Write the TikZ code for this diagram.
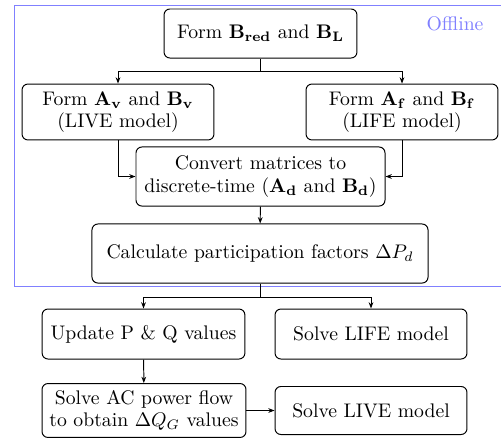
\documentclass[tikz,border=0pt]{standalone}
\usetikzlibrary{arrows.meta}
\begin{document}
\begin{tikzpicture}[x=0.508pt,y=-0.508pt,
  box/.style={draw,rounded corners=3pt,align=center,inner sep=1pt,line width=0.5pt},
  conn/.style={line width=0.5pt},
  arr/.style={conn,-{Stealth[length=3.2pt,width=2.4pt]}},
  every node/.style={font=\fontsize{10}{11.5}\selectfont}]
\useasboundingbox (0,0) rectangle (501,441);
% offline frame
\draw[blue!50,line width=0.5pt] (501,5) -- (14,5) -- (14,286.7) -- (501,286.7);
\node[text=blue!50] (off) at (455,24) {Offline};
% nodes
\node[box,minimum width=98pt,minimum height=24.9pt] (n1) at (260.5,33.5) {Form $\mathbf{B_{red}}$ and $\mathbf{B_L}$};
\node[box,minimum width=97.5pt,minimum height=28.4pt] (n2) at (118,112) {Form $\mathbf{A_v}$ and $\mathbf{B_v}$\\(LIVE model)};
\node[box,minimum width=97.5pt,minimum height=28.4pt] (n3) at (402,112) {Form $\mathbf{A_f}$ and $\mathbf{B_f}$\\(LIFE model)};
\node[box,minimum width=126.5pt,minimum height=30pt] (n4) at (260.5,176.5) {Convert matrices to\\discrete-time ($\mathbf{A_d}$ and $\mathbf{B_d}$)};
\node[box,minimum width=170.7pt,minimum height=30pt] (n5) at (260,253.5) {Calculate participation factors $\Delta P_d$};
\node[box,minimum width=103pt,minimum height=25.4pt] (n6) at (143.5,334) {Update P \& Q values};
\node[box,minimum width=97.5pt,minimum height=25.4pt] (n7) at (371,334) {Solve LIFE model};
\node[box,minimum width=103.6pt,minimum height=27.4pt] (n8) at (144,410.5) {Solve AC power flow\\to obtain $\Delta Q_G$ values};
\node[box,minimum width=97.5pt,minimum height=24.4pt] (n9) at (371,410.5) {Solve LIVE model};
% connectors
\coordinate (b1) at (260.5,71);
\draw[conn] (n1.south) -- (b1);
\draw[arr] (b1) -| (n2.north);
\draw[arr] (b1) -| (n3.north);
\draw[arr] (n2.south) |- (n4.west);
\draw[arr] (n3.south) |- (n4.east);
\draw[arr] (n4) -- (n5);
\coordinate (b2) at (260,297);
\draw[conn] (n5.south) -- (b2);
\draw[arr] (b2) -| (n6.north);
\draw[arr] (b2) -| (n7.north);
\draw[arr] (n6) -- (n8);
\draw[arr] (n8.east) -- (n9.west);
\end{tikzpicture}
\end{document}
